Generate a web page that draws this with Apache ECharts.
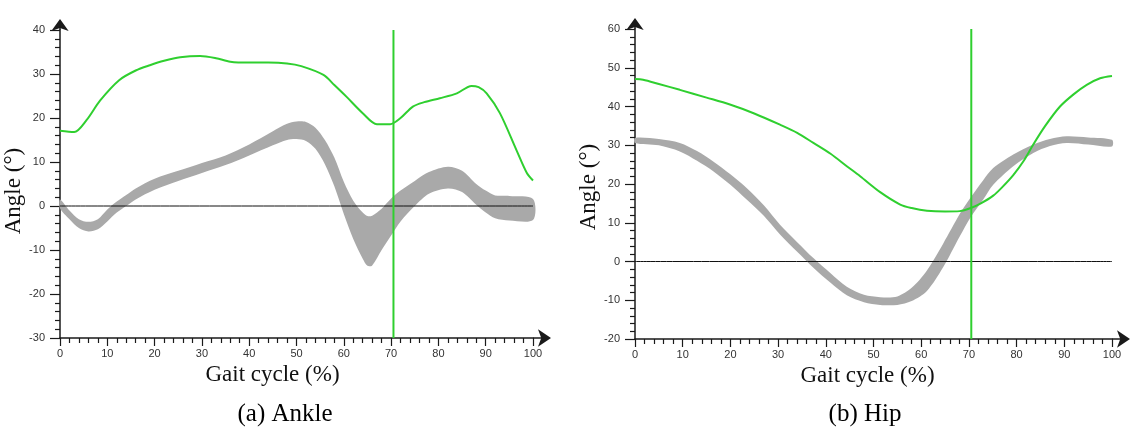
<!DOCTYPE html>
<html>
<head>
<meta charset="utf-8">
<script src="https://cdn.jsdelivr.net/npm/echarts@6/dist/echarts.min.js"></script>
<style>
html,body{margin:0;padding:0;background:#fff;}
#c{width:1136px;height:435px;}
</style>
</head>
<body>
<div id="c"></div>
<script>
// ---------- data ----------
const xTicks = [0, 10, 20, 30, 40, 50, 60, 70, 80, 90, 100];
const ankleYTicks = [-30, -20, -10, 0, 10, 20, 30, 40];
const hipYTicks = [-20, -10, 0, 10, 20, 30, 40, 50, 60];
const toeOff = 70.5;

// Ankle: green (subject) curve
const ankleGreenX = [0, 3, 5.6, 8.5, 12.5, 16, 19, 22, 25.4, 29.6, 33, 36, 40, 44, 48, 51, 55.7, 58, 60.6, 64, 67, 69.8, 72, 74.6, 77, 80.3, 83.9, 87, 88.5, 90.2, 93, 96.5, 98.7, 100];
const ankleGreenY = [17.1, 16.8, 19.5, 24, 28.6, 30.8, 32, 33, 33.8, 34.1, 33.6, 32.8, 32.6, 32.6, 32.4, 31.8, 29.8, 27.5, 24.8, 21.1, 18.6, 18.6, 20, 22.6, 23.6, 24.5, 25.6, 27.3, 27, 25.6, 21.1, 12.7, 7.5, 5.8];
// Ankle: gray normal band
const ankleBandX = [0, 2, 4, 6, 8, 10, 12, 14, 16, 20, 25, 30, 35, 40, 45, 48, 50, 52, 54, 56, 58, 60, 62, 64, 65, 66, 68, 70, 72, 75, 78, 82, 85, 88, 90, 92, 95, 100];
const ankleBandUpper = [1.5, -1, -3, -3.6, -3, -0.8, 1, 2.5, 4, 6.2, 8, 9.8, 11.5, 14, 17, 18.7, 19.2, 19.1, 17.8, 15, 11, 5.5, 1.2, -1.5, -2.3, -2.2, -0.6, 1.7, 3.5, 5.7, 7.7, 8.9, 8, 5, 3.5, 2.4, 2.3, 1.6];
const ankleBandLower = [-0.5, -3, -5, -5.8, -5.3, -3.5, -1.5, 0, 1.5, 3.7, 5.7, 7.5, 9.3, 11.5, 13.8, 15, 15.2, 14.8, 13, 9.5, 4.5, -1.8, -7.5, -12, -13.6, -13.5, -10, -6.7, -3.5, 0, 2.8, 4, 3.2, 0.3, -1.5, -2.8, -3.3, -3.2];

// Hip: green (subject) curve
const hipGreenX = [0, 1.7, 5, 9.4, 15, 19.9, 25, 30.4, 34, 37.4, 41, 44.4, 47.2, 51.4, 55.6, 58, 61.2, 65, 68.1, 70.4, 72.5, 75.1, 77, 79.3, 81.5, 83.5, 86, 89.1, 92, 94.7, 97.5, 100];
const hipGreenY = [47.1, 46.9, 45.8, 44.3, 42.3, 40.5, 38.2, 35.3, 33.2, 30.6, 27.8, 24.6, 22, 17.9, 14.7, 13.8, 13.1, 12.9, 13, 13.8, 15, 17, 19.2, 22.3, 26, 30.2, 35, 40, 43.2, 45.6, 47.3, 47.9];
// Hip: gray normal band
const hipBandX = [0, 5, 9.4, 13, 16.4, 20, 23.4, 27, 30.4, 34, 37.4, 41, 44.4, 48, 51.4, 55, 58, 61.2, 64.6, 68.1, 70.4, 73, 75.1, 79.3, 83.5, 87, 90.5, 95, 100];
const hipBandUpper = [31.9, 31.6, 30.6, 28.5, 25.8, 22.5, 19, 14.5, 9.5, 5, 0.9, -3, -6.5, -8.6, -9.2, -9, -6.8, -2.3, 4.6, 12.3, 16.6, 21, 24.1, 27.6, 30.2, 31.6, 32.3, 32, 31.4];
const hipBandLower = [30.6, 30, 28.4, 26, 23.3, 19.8, 16, 11.8, 7, 2.5, -1.6, -5.5, -8.7, -10.5, -11.2, -11.2, -10.2, -7.6, -1.5, 6.5, 11.5, 16, 19.8, 24.6, 28, 29.8, 30.6, 30.2, 29.7];

// ---------- helpers ----------
const GREEN = '#2fcf2f';
const GRAY = '#a9a9a9';
const AXIS = '#1a1a1a';
const zip = (xs, ys) => xs.map((x, i) => [x, ys[i]]);

function bandSeries(idx, xs, up, lo) {
  return {
    type: 'custom', xAxisIndex: idx, yAxisIndex: idx, silent: true, z: 2,
    data: [0],
    renderItem: function (params, api) {
      const pts = [];
      for (let i = 0; i < xs.length; i++) pts.push(api.coord([xs[i], up[i]]));
      for (let i = xs.length - 1; i >= 0; i--) pts.push(api.coord([xs[i], lo[i]]));
      return { type: 'polygon', shape: { points: pts, smooth: 0.3 }, style: { fill: GRAY, stroke: null } };
    }
  };
}

function xAxis(idx) {
  return {
    type: 'value', gridIndex: idx, min: 0, max: 100, interval: 10,
    name: 'Gait cycle (%)', nameLocation: 'middle', nameGap: 21,
    nameTextStyle: { fontFamily: 'Liberation Serif', fontSize: 23, color: '#111', padding: idx === 0 ? [0, 48, 0, 0] : [0, 12, 0, 0] },
    axisLine: { onZero: false, lineStyle: { color: AXIS, width: 1.5 }, symbol: ['none', 'arrow'], symbolSize: [13, 13], symbolOffset: [0, 18] },
    axisTick: { length: 8, lineStyle: { color: AXIS, width: 1.2 } },
    minorTick: { show: true, splitNumber: 5, length: 5, lineStyle: { color: AXIS, width: 1.2 } },
    axisLabel: { fontFamily: 'Liberation Sans', fontSize: 11, color: '#333', margin: 10 },
    splitLine: { show: false }
  };
}
function yAxis(idx, mn, mx) {
  return {
    type: 'value', gridIndex: idx, min: mn, max: mx, interval: 10,
    name: 'Angle (°)', nameLocation: 'middle', nameGap: 30, nameRotate: 90,
    nameTextStyle: { fontFamily: 'Liberation Serif', fontSize: 23, color: '#111', padding: [0, 0, 0, idx === 0 ? -14 : -6] },
    axisLine: { onZero: false, lineStyle: { color: AXIS, width: 1.5 }, symbol: ['none', 'arrow'], symbolSize: [13, 12], symbolOffset: [0, 11] },
    axisTick: { length: 10, lineStyle: { color: AXIS, width: 1.2 } },
    minorTick: { show: true, splitNumber: 5, length: 5, lineStyle: { color: AXIS, width: 1.2 } },
    axisLabel: { fontFamily: 'Liberation Sans', fontSize: 11, color: '#333', margin: 15 },
    splitLine: { show: false }
  };
}
function lineSeries(idx, data, color, width, z) {
  return { type: 'line', xAxisIndex: idx, yAxisIndex: idx, data: data, showSymbol: false, symbol: 'none', silent: true, z: z,
    lineStyle: { color: color, width: width }, smooth: 0.3, animation: false };
}

const chart = echarts.init(document.getElementById('c'), null, { renderer: 'canvas' });
const option = {
  animation: false,
  backgroundColor: '#fff',
  grid: [
    { left: 60, right: 603, top: 30, bottom: 97 },
    { left: 635, right: 24, top: 29, bottom: 96 }
  ],
  xAxis: [xAxis(0), xAxis(1)],
  yAxis: [yAxis(0, ankleYTicks[0], ankleYTicks[ankleYTicks.length - 1]), yAxis(1, hipYTicks[0], hipYTicks[hipYTicks.length - 1])],
  title: [
    { text: '(a) Ankle', left: 280, top: 397, textAlign: 'center', textStyle: { fontFamily: 'Liberation Serif', fontSize: 25, fontWeight: 'normal', color: '#000' } },
    { text: '(b) Hip', left: 860, top: 397, textAlign: 'center', textStyle: { fontFamily: 'Liberation Serif', fontSize: 25, fontWeight: 'normal', color: '#000' } }
  ],
  series: [
    bandSeries(0, ankleBandX, ankleBandUpper, ankleBandLower),
    lineSeries(0, [[0, 0], [100, 0]], '#111', 1, 3),
    lineSeries(0, zip(ankleGreenX, ankleGreenY), GREEN, 2, 4),
    lineSeries(0, [[toeOff, ankleYTicks[0]], [toeOff, ankleYTicks[ankleYTicks.length - 1]]], GREEN, 2, 5),
    bandSeries(1, hipBandX, hipBandUpper, hipBandLower),
    lineSeries(1, [[0, 0], [100, 0]], '#111', 1, 3),
    lineSeries(1, zip(hipGreenX, hipGreenY), GREEN, 2, 4),
    lineSeries(1, [[toeOff, hipYTicks[0]], [toeOff, hipYTicks[hipYTicks.length - 1]]], GREEN, 2, 5)
  ]
};
chart.setOption(option);

// extend axis lines up to the arrow heads
const ext = [];
[[0, ankleYTicks[0], ankleYTicks[ankleYTicks.length - 1]], [1, hipYTicks[0], hipYTicks[hipYTicks.length - 1]]].forEach(function (a) {
  const xEnd = chart.convertToPixel({ gridIndex: a[0] }, [100, a[1]]);
  const yEnd = chart.convertToPixel({ gridIndex: a[0] }, [0, a[2]]);
  ext.push({ type: 'line', shape: { x1: xEnd[0], y1: xEnd[1], x2: xEnd[0] + 14, y2: xEnd[1] }, style: { stroke: AXIS, lineWidth: 1.5 }, z: 10 });
  ext.push({ type: 'line', shape: { x1: yEnd[0], y1: yEnd[1], x2: yEnd[0], y2: yEnd[1] - 8 }, style: { stroke: AXIS, lineWidth: 1.5 }, z: 10 });
});
chart.setOption({ graphic: ext });
</script>
</body>
</html>
